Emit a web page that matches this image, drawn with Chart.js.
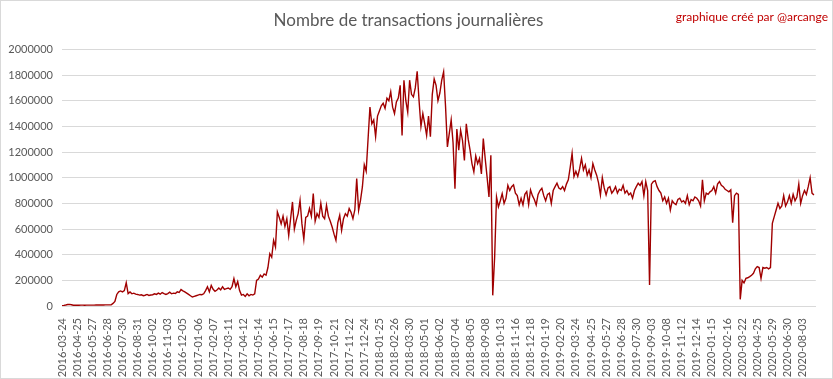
<!DOCTYPE html>
<html>
<head>
<meta charset="utf-8">
<script src="https://cdn.jsdelivr.net/npm/chart.js@4/dist/chart.umd.min.js"></script>
<style>
    body { margin: 0; background: #fff; }
</style>
</head>
<body>
<canvas id="canvas" width="833" height="379"></canvas>
<script>
// tick labels shown on the x axis (one every 32 days)
var tickLabels = [
    '2016-03-24', '2016-04-25', '2016-05-27', '2016-06-28', '2016-07-30', '2016-08-31', '2016-10-02',
    '2016-11-03', '2016-12-05', '2017-01-06', '2017-02-07', '2017-03-11', '2017-04-12', '2017-05-14',
    '2017-06-15', '2017-07-17', '2017-08-18', '2017-09-19', '2017-10-21', '2017-11-22', '2017-12-24',
    '2018-01-25', '2018-02-26', '2018-03-30', '2018-05-01', '2018-06-02', '2018-07-04', '2018-08-05',
    '2018-09-08', '2018-10-13', '2018-11-16', '2018-12-18', '2019-01-19', '2019-02-20', '2019-03-24',
    '2019-04-25', '2019-05-27', '2019-06-28', '2019-07-30', '2019-09-03', '2019-10-08', '2019-11-12',
    '2019-12-14', '2020-01-15', '2020-02-16', '2020-03-22', '2020-04-25', '2020-05-29', '2020-06-30',
    '2020-08-03'
];
var pointsPerTick = 8;   // one point = ~4 days
var tailPoints = 7;      // points after the last label

// transactions per day, in thousands, 8 values per tick interval
var tx2016 = [
    3, 5, 8, 12, 13, 10, 6, 6,
    6, 6, 7, 7, 6, 7, 7, 7,
    7, 7, 8, 8, 8, 8, 8, 9,
    9, 9, 10, 20, 35, 90, 110, 117,
    110, 120, 182, 97, 110, 95, 100, 92,
    90, 85, 88, 80, 84, 90, 82, 86,
    88, 95, 90, 100, 92, 105, 96, 90,
    97, 108, 95, 100, 98, 110, 105, 128,
    118, 110, 100, 90, 80, 70, 75, 80
];
var tx2017 = [
    85, 90, 88, 95, 120, 150, 110, 160,
    130, 115, 125, 140, 125, 150, 130, 135,
    140, 130, 150, 213, 150, 190, 120, 85,
    90, 75, 95, 80, 90, 85, 95, 200,
    210, 240, 225, 250, 240, 300, 408, 380,
    512, 460, 733, 690, 640, 700, 620, 680,
    550, 680, 811, 600, 668, 720, 824, 640,
    520, 690, 700, 760, 700, 876, 660, 720,
    690, 800, 700, 680, 785, 700, 660, 616,
    560, 512, 650, 707, 590, 680, 720, 700,
    760, 730, 680, 750, 993, 746, 824, 928
];
var tx2018 = [
    1100, 1050, 1300, 1550, 1420, 1450, 1320, 1480,
    1520, 1560, 1580, 1540, 1620, 1600, 1670, 1550,
    1500, 1590, 1620, 1720, 1330, 1760, 1600, 1510,
    1760, 1650, 1630, 1700, 1830, 1600, 1400, 1500,
    1420, 1330, 1480, 1320, 1650, 1770, 1720, 1600,
    1660, 1760, 1825, 1560, 1240, 1345, 1450, 1270,
    915, 1380, 1215, 1370, 1290, 1135, 1420, 1300,
    1215, 1110, 1045, 1170, 1110, 1150, 1030, 1305,
    1150, 1006, 850, 1175, 83, 380, 850, 772,
    820, 876, 800, 840, 940, 900, 930, 944,
    880, 860, 788, 840, 788, 870, 892, 790
];
var tx2019 = [
    905, 860, 830, 788, 870, 900, 918, 860,
    820, 870, 880, 800, 900, 930, 957, 920,
    910, 930, 900, 950, 983, 1080, 1190, 1010,
    1050, 1010, 1070, 1150, 1060, 1100, 1020, 1060,
    1000, 1110, 1060, 1020, 960, 865, 1000, 920,
    866, 920, 930, 880, 900, 930, 880, 910,
    900, 940, 880, 900, 866, 880, 840, 900,
    930, 957, 940, 970, 860, 970, 900, 164,
    950, 970, 977, 930, 900, 880, 820, 850,
    800, 840, 748, 820, 800, 790, 830, 840,
    810, 820, 800, 860, 790, 830, 820, 850
];
var tx2020 = [
    840, 820, 780, 983, 820, 880, 870, 890,
    900, 930, 880, 950, 970, 940, 930, 910,
    900, 890, 905, 650, 860, 880, 870, 52,
    200, 180, 215, 220, 229, 240, 255, 290,
    307, 300, 215, 300, 295, 300, 290, 300,
    645, 697, 748, 800, 760, 780, 860, 780,
    810, 860, 800, 870, 820, 850, 950, 800,
    860, 900, 870, 930, 1000, 880, 866
];

var titleText = 'Nombre de transactions journalières';
var creditText = 'graphique créé par @arcange';

var categories = [];
tickLabels.forEach(function (lbl, i) {
    categories.push(lbl);
    var fill = (i < tickLabels.length - 1) ? pointsPerTick - 1 : tailPoints;
    for (var k = 0; k < fill; k++) categories.push('');
});

var values = tx2016.concat(tx2017, tx2018, tx2019, tx2020).map(function (v) {
    return v * 1000;
});

var creditPlugin = {
    id: 'credit',
    afterDraw: function (chart) {
        var ctx = chart.ctx;
        ctx.save();
        ctx.font = '12px Lato';
        ctx.fillStyle = '#c00000';
        ctx.textAlign = 'right';
        ctx.textBaseline = 'middle';
        ctx.fillText(creditText, 828, 17);
        ctx.strokeStyle = '#d9d9d9';
        ctx.lineWidth = 1;
        ctx.strokeRect(0.5, 0.5, chart.width - 1, chart.height - 1);
        ctx.restore();
    }
};

const CHART = document.getElementById('canvas');
var lineChart = new Chart(CHART, {
    type: 'line',
    data: {
        labels: categories,
        datasets: [{
            data: values,
            borderColor: '#a00000',
            backgroundColor: '#a00000',
            borderWidth: 1.4,
            pointRadius: 0,
            fill: false,
            tension: 0
        }]
    },
    options: {
        responsive: false,
        animation: false,
        layout: { padding: { left: 0, right: 16, top: 0, bottom: 0 } },
        plugins: {
            legend: { display: false },
            tooltip: { enabled: false },
            title: {
                display: true,
                text: titleText,
                color: '#595959',
                font: { family: 'Lato', size: 17, weight: 'normal' },
                padding: { top: 10, bottom: 19 }
            }
        },
        scales: {
            x: {
                grid: { display: false },
                border: { display: true, color: '#d9d9d9' },
                afterFit: function (scale) { scale.height = 73; },
                ticks: {
                    autoSkip: false,
                    minRotation: 90,
                    maxRotation: 90,
                    padding: 4,
                    color: '#595959',
                    font: { family: 'Lato', size: 11 },
                    callback: function (value, index) {
                        return categories[index];
                    }
                }
            },
            y: {
                min: 0,
                max: 2000000,
                border: { display: false },
                grid: { color: '#d9d9d9', drawTicks: false },
                afterFit: function (scale) { scale.width = 62; },
                ticks: {
                    stepSize: 200000,
                    padding: 9,
                    color: '#595959',
                    font: { family: 'Lato', size: 11 },
                    callback: function (value) { return String(value); }
                }
            }
        }
    },
    plugins: [creditPlugin]
});
</script>
</body>
</html>
